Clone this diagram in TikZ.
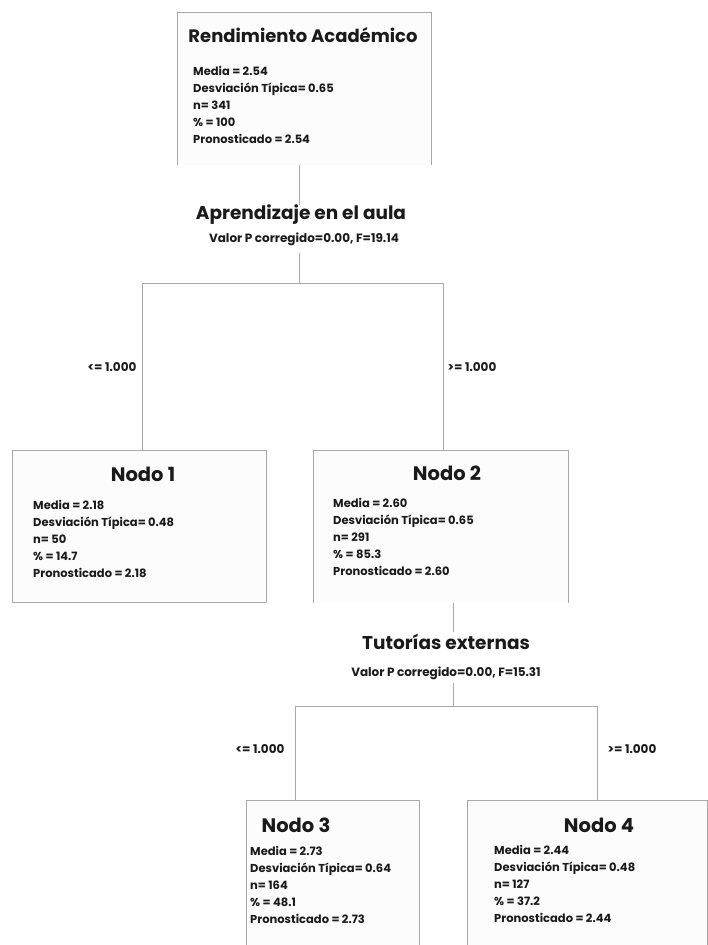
\documentclass[tikz,border=0pt]{standalone}
\usepackage{fontspec}
\setmainfont{Poppins}
\definecolor{linegray}{HTML}{A8A8A8}
\definecolor{boxfill}{HTML}{FCFCFC}
\definecolor{txt}{HTML}{1A1A1A}
\begin{document}
\begin{tikzpicture}[x=1pt,y=-1pt,
  boxn/.style={rectangle, fill=boxfill, draw=none, inner sep=0, anchor=north west},
  edge/.style={draw=linegray, line width=1pt},
  ttl/.style={font=\fontsize{18}{21}\selectfont\bfseries, text=txt, inner sep=0},
  nodot/.style={font=\fontsize{19.5}{22}\selectfont\bfseries, text=txt, inner sep=0},
  splitt/.style={font=\fontsize{18.5}{21}\selectfont\bfseries, text=txt, inner sep=0},
  stat/.style={font=\fontsize{12}{14}\selectfont\bfseries, text=txt, inner sep=0},
  body/.style={font=\fontsize{11.5}{17}\selectfont\bfseries, text=txt, align=left, anchor=north west, inner sep=0},
  lbl/.style={font=\fontsize{12}{14}\selectfont\bfseries, text=txt, inner sep=0}]
\useasboundingbox[fill=white] (0,0) rectangle (708,945);
% boxes
\node[boxn, minimum width=254pt, minimum height=153pt] (root) at (177,12) {};
\node[boxn, minimum width=254pt, minimum height=152pt] (n1) at (12,450) {};
\node[boxn, minimum width=255pt, minimum height=153pt] (n2) at (313,450) {};
\node[boxn, minimum width=173pt, minimum height=146pt] (n3) at (246,800) {};
\node[boxn, minimum width=240pt, minimum height=146pt] (n4) at (467,800) {};
\draw[edge] (root.south west) |- (root.north east) -- (root.south east);
\draw[edge] (n1.south west) rectangle (n1.north east);
\draw[edge] (n2.south west) |- (n2.north east) -- (n2.south east);
\draw[edge] (n3.south west) |- (n3.north east) -- (n3.south east);
\draw[edge] (n4.south west) |- (n4.north east) -- (n4.south east);
% titles
\node[ttl] (rootT) at (303,35) {Rendimiento Académico};
\node[nodot] (n1T) at (143,474) {Nodo 1};
\node[nodot] (n2T) at (447,473) {Nodo 2};
\node[nodot] (n3T) at (296,825) {Nodo 3};
\node[nodot] (n4T) at (599,825) {Nodo 4};
% bodies
\node[body] (rootB) at (193,66) {Media = 2.54\\Desviación Típica= 0.65\\n= 341\\\% = 100\\Pronosticado = 2.54};
\node[body] (n1B) at (33,500) {Media = 2.18\\Desviación Típica= 0.48\\n= 50\\\% = 14.7\\Pronosticado = 2.18};
\node[body] (n2B) at (333,498) {Media = 2.60\\Desviación Típica= 0.65\\n= 291\\\% = 85.3\\Pronosticado = 2.60};
\node[body] (n3B) at (250,846) {Media = 2.73\\Desviación Típica= 0.64\\n= 164\\\% = 48.1\\Pronosticado = 2.73};
\node[body] (n4B) at (494,845) {Media = 2.44\\Desviación Típica= 0.48\\n= 127\\\% = 37.2\\Pronosticado = 2.44};
% split labels
\node[splitt] (s1) at (301,215) {Aprendizaje en el aula};
\node[stat] (v1) at (304,239) {Valor P corregido=0.00, F=19.14};
\node[splitt] (s2) at (446,642) {Tutorías externas};
\node[stat] (v2) at (446,673) {Valor P corregido=0.00, F=15.31};
% branch labels
\node[lbl] (l1) at (112,367) {<= 1.000};
\node[lbl] (r1) at (472,367) {>= 1.000};
\node[lbl] (l2) at (260,749) {<= 1.000};
\node[lbl] (r2) at (632,749) {>= 1.000};
% connectors
\coordinate (j1top) at (299,165);
\coordinate (j1a) at (299,205);
\coordinate (j1b) at (299,253);
\coordinate (j1) at (299,283);
\coordinate (j2top) at (453,603);
\coordinate (j2a) at (453,632);
\coordinate (j2b) at (453,683);
\coordinate (j2) at (453,706);
\draw[edge] (j1top) -- (j1a);
\draw[edge] (j1b) -- (j1);
\draw[edge] (j1) -| (142,450);
\draw[edge] (j1) -| (443,450);
\draw[edge] (j2top) -- (j2a);
\draw[edge] (j2b) -- (j2);
\draw[edge] (j2) -| (295,800);
\draw[edge] (j2) -| (597,800);
\end{tikzpicture}
\end{document}
